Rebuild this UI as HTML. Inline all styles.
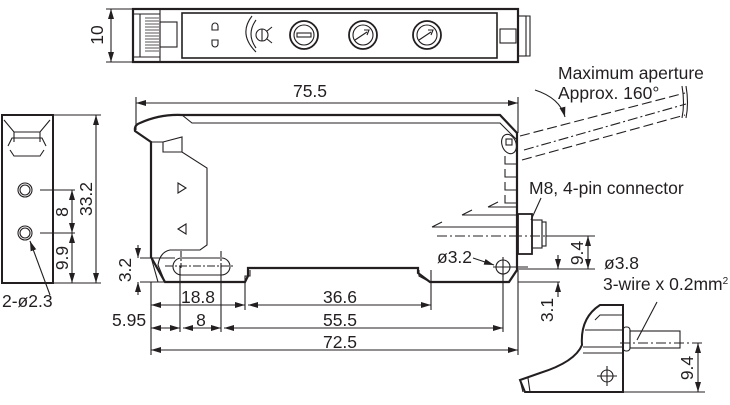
<!DOCTYPE html>
<html><head><meta charset="utf-8"><style>
html,body{margin:0;padding:0;background:#fff}
svg{display:block}
text{font-family:"Liberation Sans",sans-serif;font-size:17.5px;fill:#231f20}
</style></head><body>
<svg width="730" height="405" viewBox="0 0 730 405" xmlns="http://www.w3.org/2000/svg">
<defs>
<marker id="a" viewBox="0 0 10 6" refX="10" refY="3" markerWidth="10" markerHeight="6" orient="auto-start-reverse" markerUnits="userSpaceOnUse"><path d="M0,0L10,3L0,6z" fill="#231f20"/></marker>
</defs>
<g stroke="#231f20" fill="none" stroke-width="1.1">
<!-- top view -->
<rect x="133" y="9" width="385" height="53" stroke-width="2.2"/>
<rect x="182" y="13" width="315" height="45" stroke-width="1.6"/>
<path d="M133,14 H160 M133,57 H160 M140,14 V57 M160,14 V62 M160,9 V62"/>
<path d="M145,18h14M145,21h14M145,24h14M145,27h14M145,30h14M145,33h14M145,36h14M145,39h14M145,42h14M145,45h14M145,48h14M145,51h14" stroke-width="0.8"/>
<rect x="160" y="22" width="17" height="25"/>
<rect x="518" y="16" width="8" height="40"/>
<rect x="500" y="29" width="16" height="14"/>
<path d="M526,16h4v40h-4" />
<path d="M212,26a3,3 0 0 1 6,0v4h-6z M212,40h6v4a3,3 0 0 1 -6,0z"/>
<path d="M252,16 Q238,34 256,52 M256,48 Q246,34 256,20" />
<circle cx="262" cy="35" r="6"/><path d="M262,29v12 M267,31l5,-4 M267,39l5,4"/>
<circle cx="304" cy="35" r="14" stroke-width="1.8"/><circle cx="304" cy="35" r="10"/><rect x="297" y="33" width="14" height="4"/>
<circle cx="363" cy="35" r="14" stroke-width="1.8"/><circle cx="363" cy="35" r="10"/><path d="M355,40l12,-8M364,30l5,0l-2,5"/>
<circle cx="427" cy="35" r="14" stroke-width="1.8"/><circle cx="427" cy="35" r="10"/><path d="M419,40l12,-8M428,30l5,0l-2,5"/>
<path d="M106,9h27M106,62h27"/>
<line x1="111" y1="9" x2="111" y2="62" marker-start="url(#a)" marker-end="url(#a)"/>

<!-- side view left -->
<rect x="2" y="115" width="51" height="168" stroke-width="2"/>
<path d="M4,120l10,12h26l10,-12 M8,146l4,-8h30l4,8 M10,150l4,6h26l4,-6 M14,132v10 M40,132v10"/>
<circle cx="25" cy="190" r="7"/><circle cx="25" cy="190" r="5"/>
<circle cx="25" cy="233" r="7"/><circle cx="25" cy="233" r="5"/>
<path d="M40,190h35 M40,233h35 M53,115h48 M53,283h48"/>
<line x1="72" y1="190" x2="72" y2="233" marker-start="url(#a)" marker-end="url(#a)"/>
<line x1="72" y1="233" x2="72" y2="283" marker-start="url(#a)" marker-end="url(#a)"/>
<line x1="96" y1="115" x2="96" y2="283" marker-start="url(#a)" marker-end="url(#a)"/>
<line x1="50" y1="295" x2="30" y2="241" marker-end="url(#a)"/>

<!-- main front view -->
<path d="M151,142 L135,131 Q134,125 140,123 Q160,114 182,115 H500 L517,133 V270 L509,282 H430 L418,273 V268 H248 V276 L245,282 H165 L151,257 Z" stroke-width="2.2"/>
<path d="M151,142 H163 M182,115 L192,123 H500 L517,140"/>
<path d="M163,142 L182,137 V152 M163,142 V152 H182 L207,168 V245 L200,250 H170 Q160,252 158,265 L165,282" />
<path d="M151,257 L158,282 H165"/>
<rect x="173" y="258" width="57" height="17" rx="8.5"/>
<line x1="165" y1="266" x2="235" y2="266" stroke-dasharray="8,2,2,2"/>
<path d="M181,251 V268 M221,251 V268" stroke-dasharray="6,2,2,2"/>
<path d="M245,282 V276 H250 V270" />
<path d="M419,270 V276 L430,282"/>
<path d="M178,183l8,5l-8,5z M186,224l-8,5l8,5z"/>
<path d="M505,156v8h12 M505,169v8h12 M505,182v8h12 M505,195v8h12"/>
<path d="M488,207h29 M498,202l-10,5 M462,215h55 M472,210l-10,5 M432,227h85 M442,222l-10,5"/>
<path d="M437,236h81" stroke-dasharray="10,3,2,3"/>
<ellipse cx="509" cy="144" rx="7" ry="10" transform="rotate(-20 509 144)"/>
<rect x="506" y="139" width="6" height="6"/>
<!-- connector -->
<rect x="518" y="214" width="14" height="40" stroke-width="1.8"/>
<rect x="532" y="220" width="10" height="28"/>
<rect x="542" y="222" width="4" height="24"/>
<line x1="512" y1="236" x2="570" y2="236" stroke-dasharray="10,3,2,3"/>
<line x1="541" y1="198" x2="531" y2="220"/>
<!-- aperture -->
<line x1="520" y1="136" x2="685" y2="93" stroke-dasharray="10,4"/>
<line x1="522" y1="160" x2="685" y2="115" stroke-dasharray="10,4"/>
<line x1="524" y1="150" x2="686" y2="104" stroke-dasharray="10,3,2,3"/>
<path d="M682,86 Q685,103 682,118 M686,86 Q689,103 686,118"/>
<path d="M535,90 Q560,98 565,117" marker-end="url(#a)"/>
<!-- hole -->
<circle cx="503" cy="267" r="7"/>
<path d="M493,267h35 M503,257v20"/>
<line x1="473" y1="258" x2="494" y2="265" marker-end="url(#a)"/>
<!-- dims -->
<path d="M136,97 V130 M518,97 V133"/>
<line x1="136" y1="103" x2="518" y2="103" marker-start="url(#a)" marker-end="url(#a)"/>
<path d="M140,258 H175 M140,282 H165"/>
<line x1="138" y1="245" x2="138" y2="258" marker-end="url(#a)"/>
<line x1="138" y1="295" x2="138" y2="282" marker-end="url(#a)"/>
<path d="M151,282 V355 M180,266 V332 M221,266 V332 M245,282 V310 M431,270 V310 M503,274 V332 M518,270 V355"/>
<line x1="151" y1="305" x2="245" y2="305" marker-start="url(#a)" marker-end="url(#a)"/>
<line x1="248" y1="305" x2="431" y2="305" marker-start="url(#a)" marker-end="url(#a)"/>
<line x1="151" y1="328" x2="180" y2="328" marker-start="url(#a)" marker-end="url(#a)"/>
<line x1="183" y1="328" x2="221" y2="328" marker-start="url(#a)" marker-end="url(#a)"/>
<line x1="224" y1="328" x2="503" y2="328" marker-start="url(#a)" marker-end="url(#a)"/>
<line x1="151" y1="350" x2="518" y2="350" marker-start="url(#a)" marker-end="url(#a)"/>
<path d="M546,236 H595 M518,269 H595 M518,282 H560"/>
<line x1="588" y1="236" x2="588" y2="269" marker-start="url(#a)" marker-end="url(#a)"/>
<line x1="558" y1="255" x2="558" y2="269" marker-end="url(#a)"/>
<line x1="558" y1="297" x2="558" y2="282" marker-end="url(#a)"/>
<!-- small bottom right view -->
<path d="M600,305 H623 V392 H525 L520,380 L540,373 Q575,362 582,345 Q580,318 600,305 Z" stroke-width="2"/>
<path d="M595,320 L600,315 H623 M585,330h38 M583,347h40 M583,353h40"/>
<rect x="623" y="327" width="7" height="24" rx="3"/>
<rect x="630" y="331" width="50" height="17"/>
<line x1="620" y1="343" x2="705" y2="343" stroke-dasharray="10,3,2,3"/>
<path d="M520,380 L523,392 M528,378 L530,392"/>
<circle cx="607" cy="376" r="6"/><path d="M597,376h20 M607,366v20"/>
<line x1="657" y1="302" x2="637" y2="340"/>
<path d="M623,392 H705"/>
<line x1="698" y1="343" x2="698" y2="392" marker-start="url(#a)" marker-end="url(#a)"/>
</g>
<g>
<text x="103" y="35" transform="rotate(-90 103 35)" text-anchor="middle">10</text>
<text x="310" y="97" text-anchor="middle">75.5</text>
<text x="558" y="79">Maximum aperture</text>
<text x="558" y="99">Approx. 160°</text>
<text x="529" y="194">M8, 4-pin connector</text>
<text x="437" y="263">ø3.2</text>
<text x="604" y="269">ø3.8</text>
<text x="603" y="290" font-size="16">3-wire x 0.2mm<tspan dy="-6" font-size="10">2</tspan></text>
<text x="131" y="270" transform="rotate(-90 131 270)" text-anchor="middle">3.2</text>
<text x="583" y="253" transform="rotate(-90 583 253)" text-anchor="middle">9.4</text>
<text x="553" y="310" transform="rotate(-90 553 310)" text-anchor="middle">3.1</text>
<text x="693" y="368" transform="rotate(-90 693 368)" text-anchor="middle">9.4</text>
<text x="68" y="212" transform="rotate(-90 68 212)" text-anchor="middle">8</text>
<text x="68" y="258" transform="rotate(-90 68 258)" text-anchor="middle">9.9</text>
<text x="92" y="199" transform="rotate(-90 92 199)" text-anchor="middle">33.2</text>
<text x="2" y="307">2-ø2.3</text>
<text x="198" y="303" text-anchor="middle">18.8</text>
<text x="340" y="303" text-anchor="middle">36.6</text>
<text x="112" y="326">5.95</text>
<text x="201" y="326" text-anchor="middle">8</text>
<text x="340" y="326" text-anchor="middle">55.5</text>
<text x="340" y="348" text-anchor="middle">72.5</text>
</g>
</svg>
</body></html>
